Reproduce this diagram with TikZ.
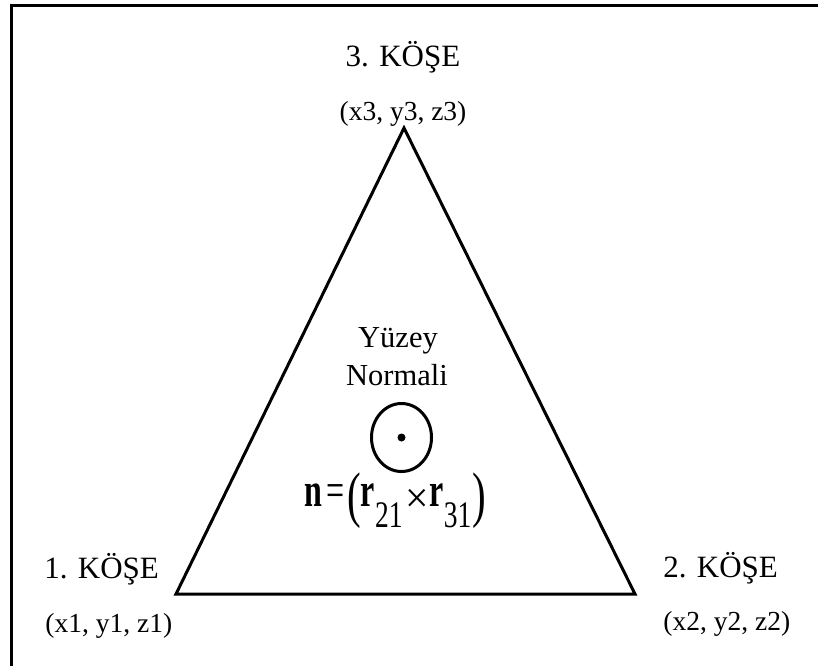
\documentclass[tikz,border=0pt]{standalone}
\usepackage{fontspec}
\setmainfont{Liberation Serif}
\usepackage{graphicx}
\usetikzlibrary{positioning,calc}
\usetikzlibrary{shapes.geometric}
\tikzset{
  side/.style={draw=black,line width=1.5pt,line join=miter},
  frame/.style={draw=black,line width=1.5pt},
  corner/.style={inner sep=0pt,anchor=base west,font=\fontsize{15.5pt}{18pt}\selectfont},
  coord/.style={inner sep=0pt,anchor=base west,font=\fontsize{13.75pt}{16pt}\selectfont},
  normtext/.style={inner sep=0pt,anchor=base,font=\fontsize{15.25pt}{18pt}\selectfont},
  ring/.style={ellipse,draw=black,line width=1.5pt,minimum width=30pt,minimum height=34pt,inner sep=0pt},
  tip/.style={circle,fill=black,minimum size=4pt,inner sep=0pt},
  formula/.style={inner sep=0pt,anchor=base west,font=\fontsize{16pt}{18pt}\selectfont},
}
\newcommand{\subnum}[1]{\raisebox{-7pt}{\scalebox{1.1}[1]{\fontsize{12.5pt}{14pt}\selectfont #1}}}
\newcommand{\bigparen}[1]{\raisebox{-3.25pt}{\fontsize{20.5pt}{22pt}\selectfont #1}}
\newcommand{\crossop}{\raisebox{-2.1pt}{\scalebox{1.3}[0.9]{×}}}

\begin{document}
\begin{tikzpicture}[x=0.5pt,y=-0.5pt]
\useasboundingbox (0,0) rectangle (818,666);
\coordinate (f0) at (11,666);
\coordinate (f1) at (11,5);
\coordinate (f2) at (818,5);
\draw[frame] (f0) -- (f1) -- (f2);
% triangle corners
\coordinate (p1) at (176,594);
\coordinate (p2) at (635,594);
\coordinate (p3) at (404,128);
\draw[side] (p1) -- (p2) -- (p3) -- cycle;
\node[corner] (k1) at (44,578) {1. KÖŞE};
\node[coord] (c1) at (45,632) {(x1, y1, z1)};
\node[corner] (k2) at (663,577) {2. KÖŞE};
\node[coord] (c2) at (663,630) {(x2, y2, z2)};
\node[corner,anchor=base] (k3) at (403,66) {3. KÖŞE};
\node[coord,anchor=base] (c3) at (403,120) {(x3, y3, z3)};
% normal
\node[normtext] (yz) at (398,347) {Yüzey};
\node[normtext] (nm) at (397,385) {Normali};
\node[ring] (nr) at (401.5,437.5) {};
\node[tip] (nd) at (nr.center) {};
\node[formula] (eq) at (304,506)
  {\scalebox{1}[1.5]{\textbf{n}\hspace{2pt}=\hspace{1.5pt}\bigparen{(}\textbf{r}\subnum{21}\hspace{1.5pt}\crossop\hspace{0.3pt}\textbf{r}\subnum{31}\hspace{0.5pt}\bigparen{)}}};
\end{tikzpicture}
\end{document}
